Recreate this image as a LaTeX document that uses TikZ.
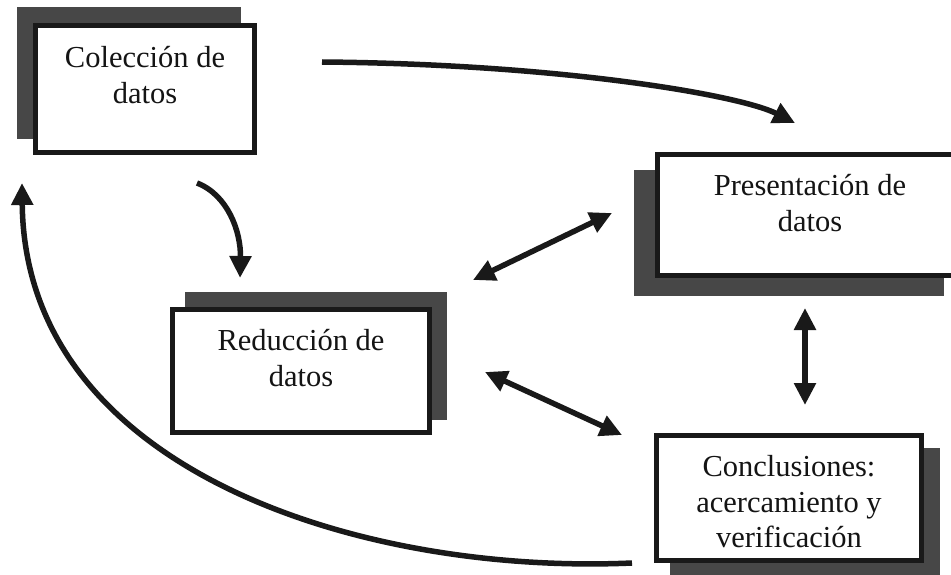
\documentclass[tikz,border=0pt]{standalone}
\usepackage{fontspec}
\setmainfont{Liberation Serif}
\usetikzlibrary{arrows.meta,calc}

\tikzset{
  stage/.style={draw=black!90, line width=5pt, fill=white, inner sep=0pt},
  shade/.style={fill=black!72, draw=none, inner sep=0pt},
  caption/.style={align=center, inner sep=0pt, text=black!92,
                  font=\fontsize{30.5}{35.5}\selectfont},
  flow/.style={draw=black!90, line width=5.5pt,
               -{Triangle[length=22pt,width=21pt]}},
  both/.style={draw=black!90, line width=5.5pt,
               {Triangle[length=22pt,width=21pt]}-{Triangle[length=22pt,width=21pt]}},
}

\begin{document}
\begin{tikzpicture}[x=1pt,y=-1pt]
  \useasboundingbox (0,0) rectangle (951,575);
  \fill[white] (0,0) rectangle (951,575);

  % drop shadows, each one offset behind its box
  \node[shade, minimum width=224pt, minimum height=132pt] (cols) at (129,73) {};
  \node[shade, minimum width=262pt, minimum height=128pt] (reds) at (316,356) {};
  \node[shade, minimum width=310pt, minimum height=125pt] (pres) at (789,233) {};
  \node[shade, minimum width=270pt, minimum height=130pt] (cons) at (805,513) {};

  % the four stages
  \node[stage, minimum width=219pt, minimum height=127pt] (col) at (145,89) {};
  \node[stage, minimum width=257pt, minimum height=123pt] (red) at (301,371) {};
  \node[stage, minimum width=305pt, minimum height=120pt] (pre) at (810,215) {};
  \node[stage, minimum width=265pt, minimum height=125pt] (con) at (789,498) {};

  \node[caption] (colt) at ($(col)+(0,-14)$) {Colección de\\datos};
  \node[caption] (redt) at ($(red)+(0,-13)$) {Reducción de\\datos};
  \node[caption] (pret) at ($(pre)+(0,-12)$) {Presentación de\\datos};
  \node[caption] (cont) at ($(con)+(0,4)$) {Conclusiones:\\acercamiento y\\verificación};

  % connector end points
  \coordinate (a1) at ($(col)+(177,-27)$);
  \coordinate (a2) at ($(pre)+(-15,-92)$);
  \coordinate (b1) at ($(col)+(52,94)$);
  \coordinate (b2) at ($(red)+(-61,-93)$);
  \coordinate (c1) at ($(con)+(-157,65)$);
  \coordinate (c2) at ($(col)+(-123,94)$);
  \coordinate (d1) at ($(red)+(172,-91)$);
  \coordinate (d2) at ($(pre)+(-198,-2)$);
  \coordinate (e1) at ($(red)+(184,1)$);
  \coordinate (e2) at ($(con)+(-167,-63)$);
  \coordinate (f1) at ($(pre)+(-5,93)$);
  \coordinate (f2) at ($(con)+(16,-93)$);

  % flows between the stages
  \draw[flow] (a1) .. controls (560,64) and (740,95) .. (a2);
  \draw[flow] (b1) .. controls (228,195) and (241,232) .. (b2);
  \draw[flow] (c1) .. controls (360,575) and (25,470) .. (c2);
  \draw[both] (d1) -- (d2);
  \draw[both] (e1) -- (e2);
  \draw[both] (f1) -- (f2);
\end{tikzpicture}
\end{document}
